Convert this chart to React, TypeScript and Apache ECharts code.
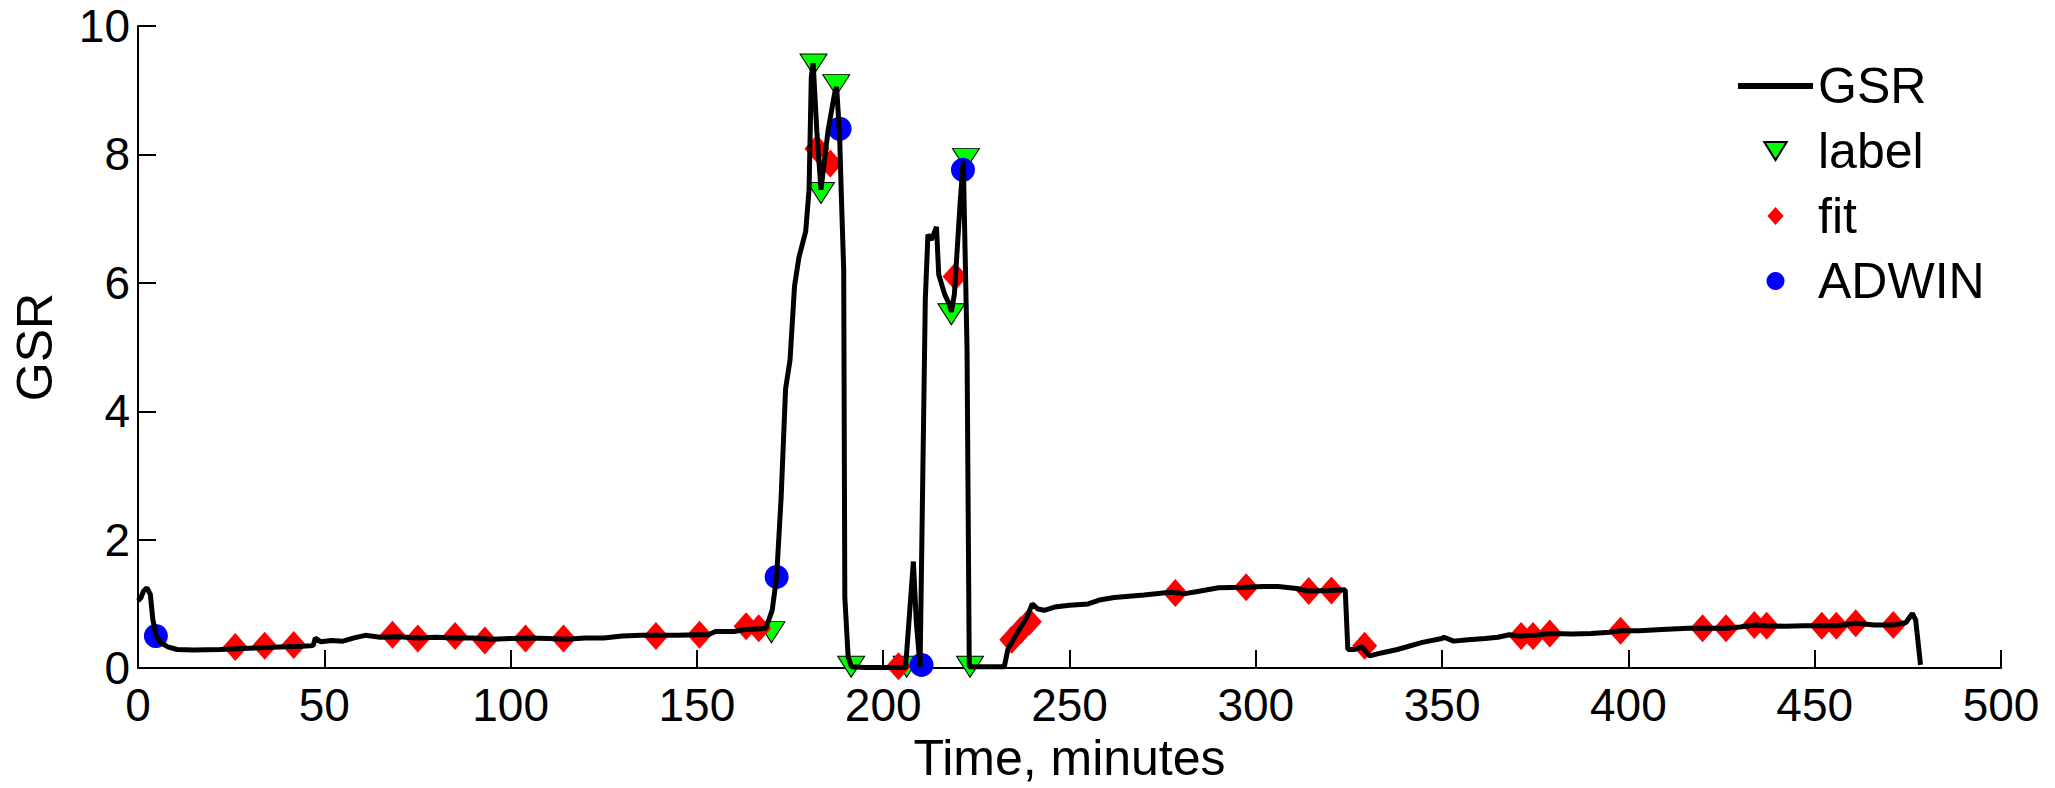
import React, { useEffect, useRef } from "react";
import * as echarts from "echarts";

const gsrTime = [0, 0.8, 1.5, 2.4, 3.3, 4.0, 4.8, 6, 8, 10.5, 15, 22, 30, 38, 44, 47, 47.6, 49, 52, 55, 58, 61, 65, 70, 75, 80, 85, 90, 95, 100, 105, 110, 115, 120, 125, 130, 135, 140, 145, 150, 153, 155, 160, 163, 166, 168.5, 170.2, 171.4, 172.6, 173.8, 175, 176.2, 177.4, 179.2, 180.1, 180.7, 181.2, 182.2, 183.3, 185.2, 187.0, 187.5, 188.3, 188.8, 189.4, 189.7, 190.6, 191.5, 195, 200, 206, 208.1, 208.9, 209.9, 211.3, 212, 212.9, 213.5, 214.3, 214.9, 216.5, 217.7, 218.3, 219.1, 220.7, 221.5, 222.5, 223.1, 228, 232.5, 233.5, 236, 238.5, 240, 241.5, 243.2, 246, 250, 255, 258, 262, 266, 270, 277, 281, 284, 290, 297, 302, 306, 311, 314, 320, 324, 324.7, 326.6, 328.5, 330.5, 334, 338, 344.7, 349.9, 350.5, 353.1, 357, 361.5, 365, 368, 371, 375, 379, 385, 390, 395, 398, 403, 409, 416, 420, 426, 430, 434, 437, 442, 447, 452, 456, 461, 466, 471, 474.5, 476.2, 477.1, 478.4];
const gsrValue = [1.05, 1.1, 1.2, 1.25, 1.15, 0.75, 0.52, 0.4, 0.33, 0.29, 0.28, 0.29, 0.31, 0.33, 0.34, 0.35, 0.47, 0.41, 0.43, 0.42, 0.47, 0.51, 0.48, 0.49, 0.47, 0.48, 0.47, 0.47, 0.45, 0.46, 0.47, 0.46, 0.45, 0.47, 0.47, 0.5, 0.51, 0.51, 0.51, 0.52, 0.52, 0.57, 0.57, 0.6, 0.61, 0.62, 0.9, 1.42, 2.65, 4.35, 4.8, 5.95, 6.4, 6.8, 7.45, 9.2, 9.42, 8.35, 7.45, 8.37, 8.96, 9.05, 8.3, 7.3, 6.2, 1.1, 0.17, 0.02, 0.01, 0.01, 0.01, 1.66, 0.71, 0.02, 5.74, 6.75, 6.67, 6.75, 6.87, 6.13, 5.82, 5.67, 5.55, 5.82, 7.29, 7.9, 4.97, 0.02, 0.02, 0.02, 0.3, 0.55, 0.78, 1.0, 0.92, 0.9, 0.95, 0.98, 1.0, 1.06, 1.1, 1.12, 1.14, 1.18, 1.16, 1.19, 1.25, 1.26, 1.27, 1.27, 1.24, 1.2, 1.21, 1.22, 0.29, 0.29, 0.33, 0.19, 0.24, 0.29, 0.4, 0.46, 0.48, 0.42, 0.44, 0.46, 0.48, 0.52, 0.5, 0.51, 0.54, 0.53, 0.54, 0.56, 0.58, 0.58, 0.6, 0.62, 0.62, 0.62, 0.64, 0.67, 0.66, 0.65, 0.66, 0.66, 0.66, 0.7, 0.67, 0.67, 0.71, 0.85, 0.75, 0.05];

const labelTime = [170, 181.3, 183.3, 187.4, 191.4, 206.3, 218.3, 222.2, 223.3];
const labelValue = [0.56, 9.4, 7.4, 9.08, 0.02, 0.02, 5.51, 7.93, 0.02];

const fitTime = [26.1, 34, 41.8, 68.3, 75.1, 85.1, 93.1, 104, 114.2, 139, 150.7, 163.2, 166.6, 182.2, 185.8, 204.1, 219.3, 234.5, 236.9, 239.2, 278.4, 297.4, 314.2, 320.3, 329.2, 371.2, 374.4, 378.9, 397.9, 419.9, 426.2, 433.8, 437.1, 451.9, 455.8, 461, 471.1];
const fitValue = [0.33, 0.35, 0.36, 0.52, 0.46, 0.5, 0.43, 0.46, 0.46, 0.5, 0.52, 0.65, 0.62, 8.09, 7.86, 0.03, 6.1, 0.44, 0.59, 0.72, 1.17, 1.26, 1.2, 1.21, 0.35, 0.5, 0.5, 0.54, 0.58, 0.62, 0.62, 0.67, 0.66, 0.66, 0.66, 0.7, 0.67];

const adwinTime = [4.8, 171.4, 188.3, 210.3, 221.4];
const adwinValue = [0.5, 1.42, 8.4, 0.05, 7.76];

const xTicks = { min: 0, max: 500, interval: 50 };
const yTicks = { min: 0, max: 10, interval: 2 };

const pairs = (xs: number[], ys: number[]) => xs.map((x, i) => [x, ys[i]]);

const FONT = "'Liberation Sans', Arial, sans-serif";
const TRI = "path://M0,0L10,0L5,8Z";
const DIAMOND = "path://M5,0L10,5.5L5,11L0,5.5Z";
const LINE_ICON = "path://M0,0L75,0L75,6L0,6Z";

export default function App() {
  const ref = useRef<HTMLDivElement>(null);
  useEffect(() => {
    if (!ref.current) return;
    const chart = echarts.init(ref.current, undefined, { renderer: "svg" });
    chart.setOption({
      animation: false,
      backgroundColor: "#ffffff",
      grid: { left: 138, right: 54, top: 26, bottom: 113, containLabel: false },
      legend: {
        orient: "vertical",
        left: 1733,
        top: 56,
        itemWidth: 75,
        itemHeight: 18,
        itemGap: 15,
        symbolKeepAspect: true,
        textStyle: { fontFamily: FONT, fontSize: 50, color: "#000" },
        data: [
          { name: "GSR", icon: LINE_ICON, itemStyle: { color: "#000" } },
          { name: "label", icon: TRI },
          { name: "fit", icon: DIAMOND },
          { name: "ADWIN", icon: "circle" },
        ],
      },
      xAxis: {
        type: "value",
        min: xTicks.min,
        max: xTicks.max,
        interval: xTicks.interval,
        name: "Time, minutes",
        nameLocation: "middle",
        nameGap: 62,
        nameTextStyle: { fontFamily: FONT, fontSize: 50, color: "#000" },
        axisLine: { show: true, onZero: false, lineStyle: { color: "#000", width: 2 } },
        axisTick: { show: true, inside: true, length: 18, lineStyle: { color: "#000", width: 2 } },
        axisLabel: { fontFamily: FONT, fontSize: 46, color: "#000", margin: 14 },
        splitLine: { show: false },
      },
      yAxis: {
        type: "value",
        min: yTicks.min,
        max: yTicks.max,
        interval: yTicks.interval,
        name: "GSR",
        nameLocation: "middle",
        nameGap: 78,
        nameTextStyle: { fontFamily: FONT, fontSize: 50, color: "#000" },
        axisLine: { show: true, onZero: false, lineStyle: { color: "#000", width: 2 } },
        axisTick: { show: true, inside: true, length: 18, lineStyle: { color: "#000", width: 2 } },
        axisLabel: { fontFamily: FONT, fontSize: 46, color: "#000", margin: 8 },
        splitLine: { show: false },
      },
      series: [
        {
          name: "GSR",
          type: "line",
          data: pairs(gsrTime, gsrValue),
          symbol: "none",
          showSymbol: false,
          lineStyle: { color: "#000", width: 5 },
          itemStyle: { color: "#000" },
        },
        {
          name: "label",
          type: "scatter",
          data: pairs(labelTime, labelValue),
          symbol: TRI,
          symbolSize: [27, 21],
          itemStyle: { color: "#00ff00", borderColor: "#000", borderWidth: 1, opacity: 1 },
        },
        {
          name: "fit",
          type: "scatter",
          data: pairs(fitTime, fitValue),
          symbol: DIAMOND,
          symbolSize: [25, 28],
          itemStyle: { color: "#ff0000", opacity: 1 },
        },
        {
          name: "ADWIN",
          type: "scatter",
          data: pairs(adwinTime, adwinValue),
          symbol: "circle",
          symbolSize: 24,
          itemStyle: { color: "#0000ff", opacity: 1 },
        },
      ],
    });
    return () => chart.dispose();
  }, []);
  return (
    <div
      ref={ref}
      style={{ position: "fixed", left: 0, top: 0, width: 2055, height: 788, background: "#fff" }}
    />
  );
}
